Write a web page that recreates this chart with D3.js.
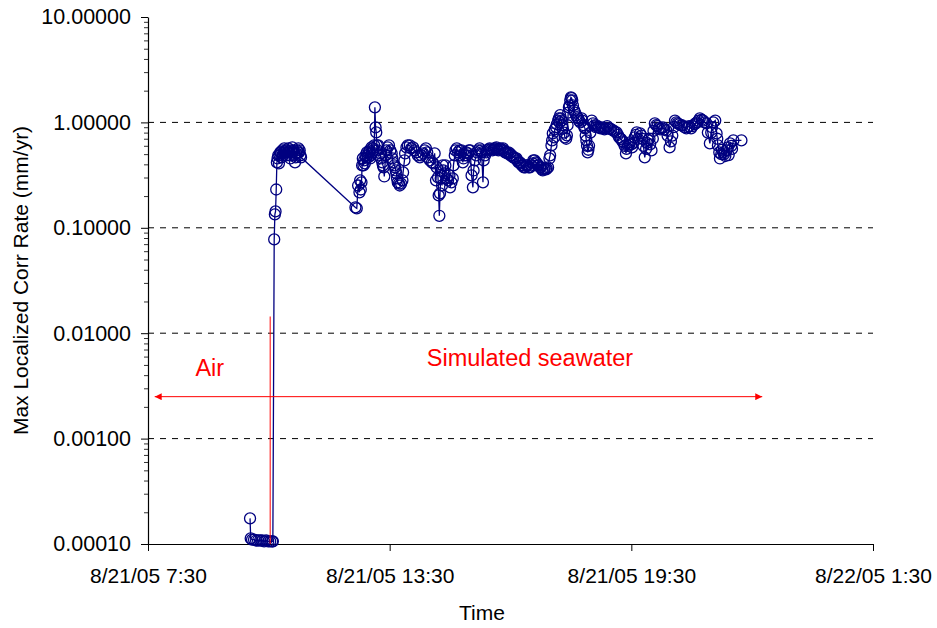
<!DOCTYPE html>
<html>
<head>
<meta charset="utf-8">
<script src="https://cdn.jsdelivr.net/npm/d3@7"></script>
<style>
  body { margin: 0; background: #fff; }
  text { font-family: "Liberation Sans", Arial, sans-serif; }
</style>
</head>
<body>
<svg width="937" height="628"></svg>
<script>
// readings taken on 8/21/05 (time of day, rate in mm/yr)
var times = [
  "10:02","10:03","10:05","10:08","10:11","10:14","10:17","10:20","10:23","10:26",
  "10:29","10:32","10:35","10:36","10:38","10:39","10:40","10:41","10:42","10:43",
  "10:44","10:45","10:46","10:47","10:48","10:49","10:50","10:51","10:52","10:53",
  "10:54","10:55","10:56","10:57","10:58","10:59","11:00","11:01","11:02","11:03",
  "11:04","11:05","11:06","11:07","11:08","11:09","11:10","11:11","11:12","11:13",
  "11:14","11:15","11:16","11:17","11:18","12:39","12:41","12:43","12:45","12:46",
  "12:47","12:48","12:49","12:50","12:51","12:52","12:53","12:54","12:55","12:56",
  "12:57","12:58","12:59","13:00","13:01","13:02","13:03","13:04","13:05","13:06",
  "13:07","13:08","13:09","13:10","13:11","13:12","13:13","13:14","13:16","13:17",
  "13:19","13:20","13:21","13:22","13:24","13:25","13:27","13:29","13:31","13:33",
  "13:34","13:35","13:37","13:38","13:39","13:40","13:41","13:42","13:44","13:45",
  "13:47","13:49","13:50","13:52","13:53","13:55","13:57","14:00","14:02","14:05",
  "14:07","14:10","14:12","14:15","14:17","14:20","14:22","14:24","14:26","14:27",
  "14:30","14:33","14:35","14:37","14:39","14:40","14:42","14:43","14:44","14:45",
  "14:46","14:48","14:49","14:50","14:52","14:53","14:55","14:57","14:59","15:00",
  "15:02","15:04","15:05","15:07","15:08","15:10","15:12","15:14","15:15","15:17",
  "15:19","15:20","15:22","15:24","15:25","15:27","15:28","15:30","15:32","15:34",
  "15:35","15:37","15:39","15:40","15:42","15:44","15:46","15:47","15:49","15:50",
  "15:52","15:54","15:55","15:57","15:59","16:01","16:03","16:05","16:06","16:08",
  "16:09","16:11","16:12","16:14","16:15","16:17","16:19","16:20","16:22","16:24",
  "16:25","16:27","16:29","16:30","16:32","16:34","16:35","16:37","16:39","16:40",
  "16:42","16:44","16:45","16:47","16:49","16:50","16:52","16:54","16:55","16:57",
  "16:59","17:01","17:03","17:04","17:06","17:08","17:09","17:11","17:12","17:14",
  "17:15","17:17","17:18","17:20","17:21","17:23","17:24","17:26","17:28","17:29",
  "17:31","17:32","17:33","17:35","17:36","17:38","17:39","17:41","17:42","17:43",
  "17:44","17:45","17:46","17:47","17:48","17:50","17:51","17:53","17:54","17:55",
  "17:56","17:57","17:58","17:59","18:00","18:01","18:02","18:03","18:05","18:06",
  "18:08","18:09","18:11","18:12","18:14","18:16","18:17","18:19","18:20","18:21",
  "18:22","18:23","18:24","18:25","18:26","18:27","18:29","18:31","18:33","18:35",
  "18:37","18:38","18:40","18:42","18:44","18:46","18:48","18:50","18:52","18:54",
  "18:56","18:58","19:00","19:03","19:05","19:08","19:10","19:12","19:14","19:15",
  "19:17","19:18","19:20","19:22","19:23","19:25","19:27","19:28","19:30","19:31",
  "19:33","19:35","19:37","19:38","19:40","19:43","19:45","19:46","19:48","19:50",
  "19:52","19:53","19:55","19:57","19:58","20:00","20:02","20:03","20:05","20:07",
  "20:09","20:11","20:13","20:15","20:17","20:19","20:22","20:24","20:27","20:29",
  "20:31","20:33","20:35","20:37","20:39","20:41","20:44","20:46","20:49","20:52",
  "20:54","20:56","20:59","21:01","21:04","21:06","21:08","21:10","21:12","21:15",
  "21:17","21:19","21:22","21:24","21:27","21:29","21:30","21:32","21:35","21:37",
  "21:38","21:39","21:41","21:42","21:44","21:45","21:47","21:48","21:50","21:52",
  "21:54","21:55","21:57","21:59","22:00","22:02","22:14"
];
var rates = [
  0.000175,0.000113,0.000110,0.000110,0.000108,0.000108,0.000108,0.000108,0.000106,0.000108,
  0.000106,0.000106,0.000106,0.000106,0.0776,0.134,0.143,0.231,0.417,0.455,
  0.486,0.408,0.486,0.519,0.519,0.466,0.542,0.486,0.519,0.567,
  0.519,0.542,0.486,0.542,0.519,0.567,0.519,0.486,0.455,0.542,
  0.519,0.579,0.519,0.542,0.486,0.417,0.466,0.508,0.542,0.519,
  0.567,0.519,0.542,0.486,0.466,0.156,0.153,0.252,0.217,0.282,
  0.231,0.270,0.391,0.455,0.391,0.436,0.408,0.486,0.466,0.519,
  0.486,0.466,0.519,0.542,0.455,0.486,0.579,0.519,0.567,0.542,
  0.605,1.39,0.897,0.804,0.605,0.542,0.605,0.486,0.508,0.455,
  0.417,0.391,0.374,0.307,0.486,0.542,0.579,0.605,0.542,0.508,
  0.455,0.417,0.391,0.374,0.350,0.328,0.294,0.270,0.262,0.252,
  0.262,0.282,0.335,0.436,0.508,0.579,0.605,0.605,0.567,0.579,
  0.542,0.519,0.486,0.466,0.486,0.508,0.542,0.567,0.519,0.466,
  0.436,0.417,0.408,0.508,0.282,0.374,0.301,0.203,0.130,0.212,
  0.294,0.252,0.391,0.350,0.328,0.391,0.294,0.282,0.314,0.242,
  0.270,0.294,0.391,0.486,0.542,0.567,0.519,0.542,0.486,0.542,
  0.417,0.455,0.486,0.519,0.486,0.508,0.542,0.542,0.314,0.242,
  0.350,0.436,0.486,0.519,0.542,0.567,0.542,0.519,0.270,0.436,
  0.486,0.519,0.542,0.554,0.567,0.554,0.542,0.554,0.567,0.567,
  0.579,0.554,0.542,0.554,0.567,0.554,0.567,0.542,0.519,0.519,
  0.508,0.519,0.508,0.486,0.486,0.466,0.466,0.455,0.455,0.436,
  0.417,0.417,0.408,0.391,0.391,0.374,0.374,0.391,0.391,0.374,
  0.374,0.391,0.408,0.436,0.436,0.417,0.408,0.391,0.391,0.374,
  0.374,0.358,0.350,0.358,0.366,0.358,0.366,0.374,0.455,0.486,
  0.605,0.675,0.786,0.72,0.86,0.897,0.96,1.04,1.09,1.00,
  1.17,1.09,1.04,0.94,0.877,0.80,0.72,0.70,0.753,0.94,
  1.24,1.39,1.45,1.62,1.73,1.70,1.62,1.45,1.30,1.24,
  1.17,1.12,1.09,1.04,1.00,1.09,1.04,0.94,0.90,0.877,
  0.75,0.675,0.60,0.519,0.55,0.60,0.80,1.04,0.978,0.937,
  0.90,0.937,0.90,0.897,0.877,0.897,0.877,0.86,0.877,0.92,
  0.877,0.877,0.86,0.84,0.82,0.804,0.76,0.72,0.70,0.69,
  0.66,0.646,0.60,0.508,0.56,0.60,0.62,0.646,0.62,0.579,
  0.64,0.72,0.76,0.804,0.70,0.786,0.75,0.70,0.60,0.466,
  0.56,0.64,0.68,0.70,0.62,0.542,0.70,0.83,0.978,0.94,
  0.92,0.88,0.86,0.88,0.897,0.86,0.839,0.75,0.579,0.66,
  0.75,0.90,1.04,1.00,0.98,0.96,0.94,0.937,0.90,0.877,
  0.90,0.92,0.877,0.92,0.96,0.98,1.00,1.04,1.09,1.06,
  1.04,1.00,0.978,0.80,0.632,0.80,0.90,1.00,1.04,0.786,
  0.70,0.605,0.52,0.455,0.50,0.55,0.52,0.50,0.48,0.542,
  0.58,0.49,0.632,0.60,0.56,0.675,0.675
];

var xTickLabels = ["8/21/05 7:30", "8/21/05 13:30", "8/21/05 19:30", "8/22/05 1:30"];
var yTicks = [0.0001, 0.001, 0.01, 0.1, 1, 10];
var gridValues = [0.001, 0.01, 0.1, 1];

// annotations: switch from air to seawater, and arrow span
var switchTime = "8/21/05 10:32", switchTop = 0.0144;
var arrowFrom = "8/21/05 7:40", arrowTo = "8/21/05 22:45", arrowLevel = 0.0025;
var labels = [
  {text: "Air", time: "8/21/05 9:02", value: 0.0039},
  {text: "Simulated seawater", time: "8/21/05 16:59", value: 0.00484}
];

var svg = d3.select("svg"),
	plotLeft = 148, plotRight = 873, plotTop = 17, plotBottom = 544,
	navy = "#000080";

var parseTick = d3.timeParse("%m/%d/%y %H:%M");
var parseTime = function(t) { return parseTick("8/21/05 " + t); };

var x = d3.scaleTime()
	.domain([parseTick(xTickLabels[0]), parseTick(xTickLabels[3])])
	.range([plotLeft, plotRight]);
var y = d3.scaleLog()
	.domain([0.0001, 10])
	.range([plotBottom, plotTop]);

var data = times.map(function(t, i) { return {t: parseTime(t), v: rates[i]}; });

// dashed grid
svg.selectAll(".grid")
	.data(gridValues)
	.enter().append("line")
	.attr("x1", plotLeft).attr("x2", plotRight)
	.attr("y1", function(d) { return y(d); })
	.attr("y2", function(d) { return y(d); })
	.attr("stroke", "#000")
	.attr("stroke-width", 1)
	.attr("stroke-dasharray", "6,6");

// minor log ticks
var minor = [];
[0.0001, 0.001, 0.01, 0.1, 1].forEach(function(d) {
	for (var k = 2; k < 10; k++) minor.push(d * k);
});

svg.append("g")
	.attr("transform", "translate(" + plotLeft + ",0)")
	.call(d3.axisLeft(y).tickValues(minor).tickSize(4).tickFormat(""))
	.call(function(g) { g.select(".domain").remove(); })
	.selectAll("line").attr("stroke", "#333");

var yAxis = svg.append("g")
	.attr("transform", "translate(" + plotLeft + ",0)")
	.call(d3.axisLeft(y).tickValues(yTicks).tickSize(7).tickSizeOuter(0).tickFormat(d3.format(".5f")));
yAxis.selectAll("text")
	.attr("font-size", 21.5)
	.attr("font-family", "Liberation Sans, Arial, sans-serif")
	.attr("fill", "#000")
	.attr("x", -17);

var xAxis = svg.append("g")
	.attr("transform", "translate(0," + plotBottom + ")")
	.call(d3.axisBottom(x).tickValues(xTickLabels.map(parseTick)).tickSize(7).tickSizeOuter(0)
		.tickFormat(function(d, i) { return xTickLabels[i]; }));
xAxis.selectAll("text")
	.attr("font-size", 21)
	.attr("font-family", "Liberation Sans, Arial, sans-serif")
	.attr("fill", "#000")
	.attr("y", 24);
svg.selectAll(".domain").attr("stroke", "#000").attr("stroke-width", 1.2);

// axis titles
svg.append("text")
	.attr("x", 482)
	.attr("y", 620)
	.attr("text-anchor", "middle")
	.attr("font-size", 21)
	.text("Time");

svg.append("text")
	.attr("transform", "translate(28," + (plotTop + plotBottom) / 2 + ") rotate(-90)")
	.attr("text-anchor", "middle")
	.attr("font-size", 21)
	.text("Max Localized Corr Rate (mm/yr)");

// series
var line = d3.line()
	.x(function(d) { return x(d.t); })
	.y(function(d) { return y(d.v); });

svg.append("path")
	.datum(data)
	.attr("d", line)
	.attr("fill", "none")
	.attr("stroke", navy)
	.attr("stroke-width", 1.3);

svg.selectAll(".pt")
	.data(data)
	.enter().append("circle")
	.attr("class", "pt")
	.attr("cx", function(d) { return x(d.t); })
	.attr("cy", function(d) { return y(d.v); })
	.attr("r", 5.5)
	.attr("fill", "none")
	.attr("stroke", navy)
	.attr("stroke-width", 1.3);

// red annotations
var defs = svg.append("defs");
defs.append("marker")
	.attr("id", "head")
	.attr("viewBox", "0 0 10 10")
	.attr("refX", 10).attr("refY", 5)
	.attr("markerWidth", 9).attr("markerHeight", 7)
	.attr("markerUnits", "userSpaceOnUse")
	.attr("orient", "auto-start-reverse")
	.append("path")
	.attr("d", "M0,0L10,5L0,10Z")
	.attr("fill", "red");

svg.append("line")
	.attr("x1", x(parseTick(switchTime))).attr("x2", x(parseTick(switchTime)))
	.attr("y1", y(switchTop)).attr("y2", plotBottom)
	.attr("stroke", "red")
	.attr("stroke-width", 1);

svg.append("line")
	.attr("x1", x(parseTick(arrowFrom))).attr("x2", x(parseTick(arrowTo)))
	.attr("y1", y(arrowLevel)).attr("y2", y(arrowLevel))
	.attr("stroke", "red")
	.attr("stroke-width", 1)
	.attr("marker-start", "url(#head)")
	.attr("marker-end", "url(#head)");

svg.selectAll(".lbl")
	.data(labels)
	.enter().append("text")
	.attr("x", function(d) { return x(parseTick(d.time)); })
	.attr("y", function(d) { return y(d.value); })
	.attr("text-anchor", "middle")
	.attr("font-size", 23.5)
	.attr("fill", "red")
	.text(function(d) { return d.text; });
</script>
</body>
</html>
